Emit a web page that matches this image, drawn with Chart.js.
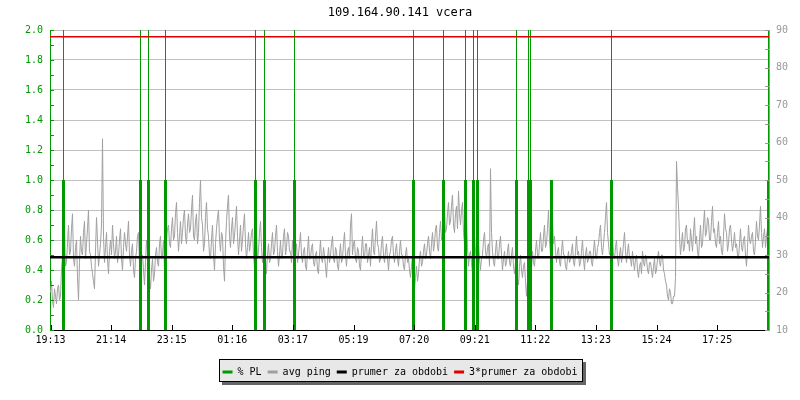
<!DOCTYPE html>
<html><head><meta charset="utf-8">
<script src="https://cdn.jsdelivr.net/npm/chart.js@4/dist/chart.umd.min.js"></script>
<style>html,body{margin:0;padding:0;background:#fff}</style>
</head><body>
<canvas id="c" width="800" height="400"></canvas>
<script>
// ---------- data ----------
const chartTitle = '109.164.90.141 vcera';
const tickLabels = ['19:13','21:14','23:15','01:16','03:17','05:19','07:20','09:21','11:22','13:23','15:24','17:25'];
const tickStepMin = 121.2;     // minutes between time labels
const xMaxMin = 1438;          // length of the period in minutes
const pingStepMin = 2;         // sampling step of avg ping
const seriesNames = ['% PL','avg ping','prumer za obdobi','3*prumer za obdobi'];
// avg ping [ms], one value every 2 minutes
const avgPing = [
20,23,18,16,21,19,17,21,22,18,19,26,30,34,36,27,28,33,38,30,
31,37,41,29,27,32,34,24,18,28,35,31,30,36,39,29,33,37,42,31,
30,27,25,23,21,31,40,34,27,30,33,38,61,35,28,32,36,29,25,31,
34,30,38,33,29,31,35,28,30,34,37,29,26,32,36,33,31,35,39,30,
27,31,33,26,24,29,31,35,36,28,25,30,30,26,22,28,34,31,27,24,
21,26,29,23,25,30,32,28,27,33,35,29,30,34,26,31,34,37,38,33,
32,37,40,34,35,41,44,36,31,35,39,33,36,40,42,35,33,38,41,36,
37,42,46,35,34,39,41,33,36,44,50,40,38,31,33,40,44,37,35,30,
29,34,38,30,26,33,37,40,42,34,31,36,35,27,23,33,39,43,46,35,
32,37,40,33,35,39,43,35,30,34,38,31,34,38,41,33,29,32,36,31,
33,36,37,30,27,31,35,29,31,36,39,32,28,31,34,29,25,30,33,28,
29,33,36,30,31,35,38,31,27,30,34,29,30,35,37,30,32,36,35,31,
31,28,34,30,27,31,33,28,30,33,36,30,28,31,32,27,26,31,35,29,
29,32,33,28,27,30,31,26,25,30,34,29,28,32,30,27,24,29,32,28,
30,33,35,29,28,32,31,27,26,30,33,28,29,33,36,30,27,31,32,29,
38,41,30,33,34,29,28,32,31,27,26,31,35,30,29,33,33,28,30,32,
27,33,37,31,30,35,39,33,32,28,29,33,35,30,28,31,33,29,26,30,
31,34,35,30,28,31,33,29,27,31,34,30,30,27,26,30,32,28,29,26,
24,27,30,25,21,24,27,23,25,29,31,27,28,31,33,29,30,33,35,31,
29,33,36,31,33,37,38,32,31,36,39,34,35,40,42,36,37,41,44,38,
39,43,46,38,36,41,43,37,47,41,38,42,44,36,33,37,40,32,27,30,
31,28,25,30,35,31,28,32,33,29,26,29,30,34,36,31,29,32,33,27,
53,36,31,28,27,31,34,29,29,33,35,30,26,29,31,27,28,31,33,28,
27,30,32,27,25,28,29,24,22,27,30,26,24,27,28,23,19,23,26,22,
20,26,31,28,27,31,34,30,29,33,36,31,31,35,38,32,33,37,42,34,
30,35,39,33,35,31,28,31,32,28,27,31,34,30,30,27,26,29,31,28,
29,31,33,28,27,31,35,30,31,27,28,31,34,29,26,30,32,28,29,31,
31,28,27,31,34,30,29,32,33,36,38,32,30,33,36,40,44,36,33,30,
31,34,35,30,29,32,34,29,27,30,32,28,30,33,36,31,28,31,33,29,
29,27,31,28,26,29,30,26,24,27,28,25,31,28,27,30,29,26,25,28,
28,26,24,27,29,25,26,29,31,28,27,30,30,26,25,23,22,19,18,21,
20,17,17,19,19,24,55,48,43,35,30,33,36,31,32,37,38,33,34,31,
37,34,31,36,40,33,35,31,29,34,38,32,33,38,42,35,36,40,39,34,
34,39,43,36,37,33,32,36,39,33,35,31,30,35,41,37,36,31,33,37,
38,34,31,33,36,32,33,30,29,33,37,32,31,34,35,30,27,32,38,34,
33,35,36,31,30,34,39,35,34,38,43,36,32,35,37,32,35,37,33,36
];
// packet loss events: minutes from start, loss value, and the off-scale peak (null = none)
const plTimes  = [26,180,196,230,410,428,488,726,786,830,846,854,932,956,960,1002,1122,1436];
const plValues = [1,1,1,1,1,1,1,1,1,1,1,1,1,1,1,1,1,1];
const plPeaks  = [2,2,2,2,2,2,2,2,2,2,2,2,2,2,2,null,2,2];
const prumer = 29.4;           // average ping of the period

// ---------- styles ----------
const GREEN = '#009900', GRAY = '#a0a0a0', RED = '#e00000';
Chart.defaults.font.family = "'DejaVu Sans Mono', monospace";
Chart.defaults.font.size = 10;
Chart.defaults.color = '#000';

const plThick = plTimes.flatMap((t,i)=>[{x:t,y:0},{x:t,y:plValues[i]},{x:t,y:null}]);
const plThin = plTimes.flatMap((t,i)=>plPeaks[i]==null?[]:[{x:t,y:0},{x:t,y:plPeaks[i]},{x:t,y:null}]);
const pingPts = avgPing.map((v,i)=>({x:i*pingStepMin,y:v}));

const decor = {
  id:'decor',
  beforeDraw(chart){
    const ctx = chart.ctx, hb = chart.legend.legendHitBoxes;
    if(!hb || !hb.length) return;
    const last = hb[hb.length-1];
    const l = Math.round(hb[0].left-4), r = Math.round(last.left+last.width+6);
    const cy = hb[0].top + hb[0].height/2;
    const t = Math.round(cy-13), b = Math.round(cy+10);
    ctx.save();
    ctx.fillStyle='#666'; ctx.fillRect(l+3,t+3,r-l,b-t);
    ctx.fillStyle='#e8e8e8'; ctx.fillRect(l,t,r-l,b-t);
    ctx.strokeStyle='#000'; ctx.lineWidth=1; ctx.strokeRect(l+0.5,t+0.5,r-l-1,b-t-1);
    ctx.restore();
  },
  afterDraw(chart){
    const ctx=chart.ctx, a=chart.chartArea, s=chart.scales;
    ctx.save(); ctx.lineWidth=1;
    ctx.strokeStyle=GREEN; ctx.beginPath();
    for(let k=0;k<=20;k++){const y=Math.round(s.yL.getPixelForValue(k/10))+0.5; ctx.moveTo(a.left,y); ctx.lineTo(a.left+4,y);}
    ctx.stroke();
    ctx.strokeStyle='#999'; ctx.beginPath();
    for(let v=10;v<=90;v+=5){const y=Math.round(s.yR.getPixelForValue(v))+0.5; ctx.moveTo(a.right-4,y); ctx.lineTo(a.right,y);}
    ctx.stroke();
    ctx.strokeStyle='#000'; ctx.beginPath();
    s.x.ticks.forEach(t=>{const x=Math.round(s.x.getPixelForValue(t.value))+0.5; ctx.moveTo(x,a.bottom); ctx.lineTo(x,a.bottom-5);});
    ctx.stroke();
    ctx.restore();
  }
};

new Chart(document.getElementById('c'), {
  type:'line',
  data:{datasets:[
    {label:seriesNames[0], data:plThick, yAxisID:'yL', borderColor:GREEN, backgroundColor:GREEN, borderWidth:3, pointRadius:0, spanGaps:false, borderCapStyle:'butt', order:3},
    {label:seriesNames[1], data:pingPts, yAxisID:'yR', borderColor:GRAY, backgroundColor:GRAY, borderWidth:1, pointRadius:0, tension:0, order:5},
    {label:seriesNames[2], data:[{x:-1,y:prumer},{x:xMaxMin,y:prumer}], yAxisID:'yR', borderColor:'#000', backgroundColor:'#000', borderWidth:2.5, pointRadius:0, order:2},
    {label:seriesNames[3], data:[{x:-1,y:3*prumer},{x:xMaxMin,y:3*prumer}], yAxisID:'yR', borderColor:RED, backgroundColor:RED, borderWidth:1.5, pointRadius:0, order:1},
    {label:'pl-peak', data:plThin, yAxisID:'yL', borderColor:GREEN, backgroundColor:GREEN, borderWidth:1, pointRadius:0, spanGaps:false, borderCapStyle:'butt', order:4}
  ]},
  options:{
    responsive:false, animation:false, events:[],
    layout:{padding:{left:0,right:0,top:0,bottom:13}},
    plugins:{
      title:{display:true, text:chartTitle, color:'#000', font:{size:12, weight:'normal', lineHeight:1.2}, padding:{top:6,bottom:9.6}},
      tooltip:{enabled:false},
      legend:{position:'bottom', labels:{
        boxWidth:10, boxHeight:3, padding:6, color:'#000', font:{size:10},
        generateLabels(chart){ return [0,1,2,3].map(i=>{const ds=chart.data.datasets[i]; return {text:ds.label, fillStyle:ds.borderColor, strokeStyle:ds.borderColor, lineWidth:0, hidden:false, datasetIndex:i, fontColor:'#000'};}); }
      }}
    },
    scales:{
      x:{type:'linear', min:-1, max:xMaxMin-1,
        afterBuildTicks(s){ s.ticks = tickLabels.map((_,i)=>({value:i*tickStepMin})); },
        afterFit(s){ s.height = 31; },
        ticks:{autoSkip:false, maxRotation:0, padding:4, color:'#000', callback:(v,i)=>tickLabels[i]},
        grid:{display:false, drawTicks:false}, border:{color:'#000', width:1}},
      yL:{position:'left', min:0, max:2,
        afterFit(s){ s.width = 50; },
        ticks:{stepSize:0.2, color:GREEN, padding:7, callback:v=>v.toFixed(1)},
        grid:{color:'#c0c0c0', lineWidth:1, drawTicks:false}, border:{color:GREEN, width:1}},
      yR:{position:'right', min:10, max:90,
        afterFit(s){ s.width = 31; },
        ticks:{stepSize:10, color:'#999', padding:7},
        grid:{drawOnChartArea:false, drawTicks:false}, border:{color:'#999', width:1}}
    }
  },
  plugins:[decor]
});
</script>
</body></html>
